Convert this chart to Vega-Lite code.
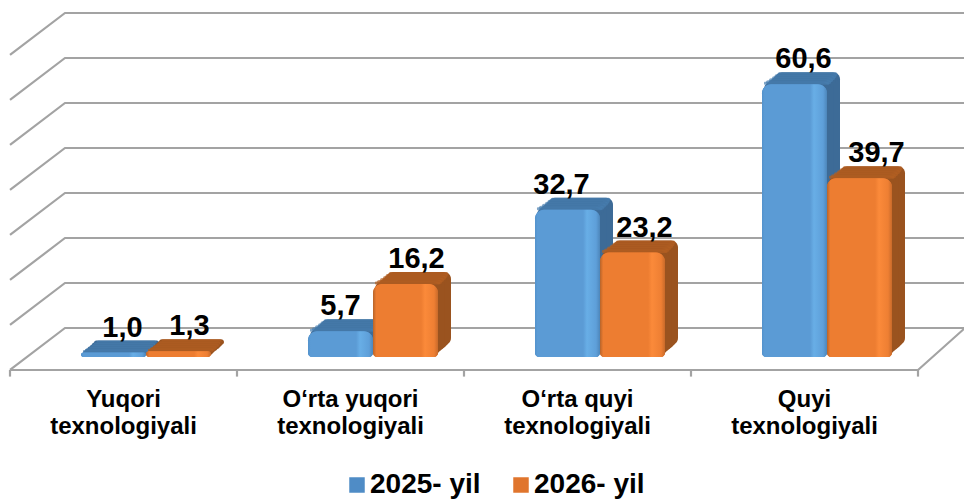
{
"$schema":"https://vega.github.io/schema/vega-lite/v6.json",
"width":908,"height":315,
"autosize":{"type":"none"},
"padding":{"left":10,"top":42,"right":46,"bottom":142},
"background":"white",
"config":{"view":{"stroke":null},"font":"Liberation Sans"},
"datasets":{
"bars":[
{"cat":"Yuqori texnologiyali","series":"2025- yil","value":1.0,"label":"1,0"},
{"cat":"Yuqori texnologiyali","series":"2026- yil","value":1.3,"label":"1,3"},
{"cat":"O‘rta yuqori texnologiyali","series":"2025- yil","value":5.7,"label":"5,7"},
{"cat":"O‘rta yuqori texnologiyali","series":"2026- yil","value":16.2,"label":"16,2"},
{"cat":"O‘rta quyi texnologiyali","series":"2025- yil","value":32.7,"label":"32,7"},
{"cat":"O‘rta quyi texnologiyali","series":"2026- yil","value":23.2,"label":"23,2"},
{"cat":"Quyi texnologiyali","series":"2025- yil","value":60.6,"label":"60,6"},
{"cat":"Quyi texnologiyali","series":"2026- yil","value":39.7,"label":"39,7"}
],
"wall":[
{"g":"l70","across":0,"level":60.67},{"g":"l70","across":55,"level":70},{"g":"l70","across":955,"level":70},
{"g":"l60","across":0,"level":50.67},{"g":"l60","across":55,"level":60},{"g":"l60","across":955,"level":60},
{"g":"l50","across":0,"level":40.67},{"g":"l50","across":55,"level":50},{"g":"l50","across":955,"level":50},
{"g":"l40","across":0,"level":30.67},{"g":"l40","across":55,"level":40},{"g":"l40","across":955,"level":40},
{"g":"l30","across":0,"level":20.67},{"g":"l30","across":55,"level":30},{"g":"l30","across":955,"level":30},
{"g":"l20","across":0,"level":10.67},{"g":"l20","across":55,"level":20},{"g":"l20","across":955,"level":20},
{"g":"l10","across":0,"level":0.67},{"g":"l10","across":55,"level":10},{"g":"l10","across":955,"level":10},
{"g":"l0","across":0,"level":-9.33},{"g":"l0","across":55,"level":0},{"g":"l0","across":955,"level":0},
{"g":"front","across":0,"level":-9.33},{"g":"front","across":908,"level":-9.33},{"g":"front","across":955,"level":0},
{"g":"t0","across":0,"level":-9.33},{"g":"t0","across":0,"level":-10.8},
{"g":"t1","across":227,"level":-9.33},{"g":"t1","across":227,"level":-10.8},
{"g":"t2","across":454,"level":-9.33},{"g":"t2","across":454,"level":-10.8},
{"g":"t3","across":681,"level":-9.33},{"g":"t3","across":681,"level":-10.8},
{"g":"t4","across":908,"level":-9.33},{"g":"t4","across":908,"level":-10.8}
]},
"resolve":{"scale":{"x":"independent"}},
"layer":[
{"data":{"name":"wall"},
 "mark":{"type":"line","yOffset":-29,"stroke":"#a3a3a3","strokeWidth":2.2,"interpolate":"linear"},
 "encoding":{
  "x":{"field":"across","type":"quantitative","scale":{"domain":[0,908],"nice":false,"zero":false},"axis":null},
  "y":{"field":"level","type":"quantitative","scale":{"domain":[0,70],"nice":false},"axis":null},
  "detail":{"field":"g"},
  "order":{"field":"across"}}},
{"data":{"name":"bars"},
 "encoding":{
  "x":{"field":"cat","type":"nominal","sort":null,"title":null,
   "scale":{"domain":["Yuqori texnologiyali","O‘rta yuqori texnologiyali","O‘rta quyi texnologiyali","Quyi texnologiyali"],"paddingInner":0,"paddingOuter":0},
   "axis":{"domain":false,"ticks":false,"labelAngle":0,"labelPadding":30,"labelFontSize":24,"labelFontWeight":"bold","labelColor":"#000","labelLineHeight":27,"labelFont":"Liberation Sans","labelExpr":"split(replace(datum.label,' texnologiyali','|texnologiyali'),'|')"}},
  "y":{"field":"value","type":"quantitative","stack":null,"scale":{"domain":[0,70],"nice":false},"axis":null}},
 "layer":[
 {"mark":{"type":"bar","width":65,"cornerRadius":7,"xOffset":{"expr":"(datum.series==='2025- yil'?-10:55)+13"},"yOffset":-12,"y2Offset":-12},"encoding":{"y2":{"datum":0},"color":{"condition":{"test":"datum.series==='2025- yil'","value":"#3d6b97"},"value":"#9a531f"}}},
 {"mark":{"type":"tick","size":60,"thickness":4,"cornerRadius":2,"xOffset":{"expr":"(datum.series==='2025- yil'?-10:55)+13"},"yOffset":-10},"encoding":{"color":{"condition":{"test":"datum.series==='2025- yil'","value":"#477daf"},"value":"#b45f22"}}},
 {"mark":{"type":"bar","width":65,"cornerRadius":7,"xOffset":{"expr":"(datum.series==='2025- yil'?-10:55)+11"},"yOffset":-10,"y2Offset":-10},"encoding":{"y2":{"datum":0},"color":{"condition":{"test":"datum.series==='2025- yil'","value":"#3d6b97"},"value":"#9a531f"}}},
 {"mark":{"type":"tick","size":62,"thickness":4,"cornerRadius":2,"xOffset":{"expr":"(datum.series==='2025- yil'?-10:55)+11"},"yOffset":-8},"encoding":{"color":{"condition":{"test":"datum.series==='2025- yil'","value":"#477daf"},"value":"#b45f22"}}},
 {"mark":{"type":"bar","width":65,"cornerRadius":7,"xOffset":{"expr":"(datum.series==='2025- yil'?-10:55)+9"},"yOffset":-8,"y2Offset":-8},"encoding":{"y2":{"datum":0},"color":{"condition":{"test":"datum.series==='2025- yil'","value":"#3d6b97"},"value":"#9a531f"}}},
 {"mark":{"type":"tick","size":63,"thickness":4,"cornerRadius":2,"xOffset":{"expr":"(datum.series==='2025- yil'?-10:55)+9"},"yOffset":-6},"encoding":{"color":{"condition":{"test":"datum.series==='2025- yil'","value":"#477daf"},"value":"#b45f22"}}},
 {"mark":{"type":"bar","width":65,"cornerRadius":7,"xOffset":{"expr":"(datum.series==='2025- yil'?-10:55)+6.5"},"yOffset":-6,"y2Offset":-6},"encoding":{"y2":{"datum":0},"color":{"condition":{"test":"datum.series==='2025- yil'","value":"#3d6b97"},"value":"#9a531f"}}},
 {"mark":{"type":"tick","size":64,"thickness":4,"cornerRadius":2,"xOffset":{"expr":"(datum.series==='2025- yil'?-10:55)+6.5"},"yOffset":-4},"encoding":{"color":{"condition":{"test":"datum.series==='2025- yil'","value":"#477daf"},"value":"#b45f22"}}},
 {"mark":{"type":"bar","width":65,"cornerRadius":7,"xOffset":{"expr":"(datum.series==='2025- yil'?-10:55)+4"},"yOffset":-4,"y2Offset":-4},"encoding":{"y2":{"datum":0},"color":{"condition":{"test":"datum.series==='2025- yil'","value":"#3d6b97"},"value":"#9a531f"}}},
 {"mark":{"type":"tick","size":65,"thickness":4,"cornerRadius":2,"xOffset":{"expr":"(datum.series==='2025- yil'?-10:55)+4"},"yOffset":-2},"encoding":{"color":{"condition":{"test":"datum.series==='2025- yil'","value":"#477daf"},"value":"#b45f22"}}},
 {"mark":{"type":"bar","width":65,"cornerRadius":7,"xOffset":{"expr":"(datum.series==='2025- yil'?-10:55)+2"},"yOffset":-2,"y2Offset":-2},"encoding":{"y2":{"datum":0},"color":{"condition":{"test":"datum.series==='2025- yil'","value":"#3d6b97"},"value":"#9a531f"}}},
 {"mark":{"type":"tick","size":65,"thickness":3,"cornerRadius":1,"xOffset":{"expr":"(datum.series==='2025- yil'?-10:55)+2"},"yOffset":-1},"encoding":{"color":{"condition":{"test":"datum.series==='2025- yil'","value":"#477daf"},"value":"#b45f22"}}},
 {"mark":{"type":"bar","width":65,"cornerRadiusTopLeft":9,"cornerRadiusTopRight":9,"cornerRadiusBottomLeft":4,"cornerRadiusBottomRight":4,"xOffset":{"expr":"datum.series==='2025- yil'?-10:55"}},
  "encoding":{"y2":{"datum":0},"color":{"field":"series","type":"nominal","title":null,
    "scale":{"domain":["2025- yil","2026- yil"],"range":["#4f8cc6","#e0752d"]},
    "legend":{"orient":"none","legendX":333,"legendY":429,"direction":"horizontal","symbolType":"square","symbolSize":240,"symbolStrokeWidth":0,"labelFontSize":28,"labelFontWeight":"bold","labelColor":"#000","labelFont":"Liberation Sans","columnPadding":26,"labelOffset":-1,"padding":0}}}},
 {"transform":[{"filter":"datum.series==='2025- yil'"}],
  "mark":{"type":"bar","width":65,"cornerRadiusTopLeft":9,"cornerRadiusTopRight":9,"cornerRadiusBottomLeft":4,"cornerRadiusBottomRight":4,"xOffset":-10,"color":{"gradient":"linear","x1":0,"x2":1,"y1":0,"y2":0,"stops":[{"offset":0,"color":"#5392cc"},{"offset":0.04,"color":"#5b9bd5"},{"offset":0.74,"color":"#5b9bd5"},{"offset":0.8,"color":"#68aee6"},{"offset":0.94,"color":"#5e9fd9"},{"offset":1,"color":"#4d86ba"}]}},
  "encoding":{"y2":{"datum":0}}},
 {"transform":[{"filter":"datum.series==='2026- yil'"}],
  "mark":{"type":"bar","width":65,"cornerRadiusTopLeft":9,"cornerRadiusTopRight":9,"cornerRadiusBottomLeft":4,"cornerRadiusBottomRight":4,"xOffset":55,"color":{"gradient":"linear","x1":0,"x2":1,"y1":0,"y2":0,"stops":[{"offset":0,"color":"#b7642a"},{"offset":0.05,"color":"#ed7d31"},{"offset":0.74,"color":"#ed7d31"},{"offset":0.8,"color":"#fb8a3a"},{"offset":0.94,"color":"#ee7f33"},{"offset":1,"color":"#c86a2a"}]}},
  "encoding":{"y2":{"datum":0}}},
 {"mark":{"type":"text","font":"Liberation Sans","fontWeight":"bold","fontSize":29,"color":"#000","baseline":"middle","dy":-25,"dx":{"expr":"datum.label==='32,7'?-16:datum.label==='5,7'?-10:datum.label==='39,7'?72:datum.label==='23,2'?67:datum.series==='2025- yil'?-1:66"}},
  "encoding":{"text":{"field":"label"}}}
 ]}
]}
